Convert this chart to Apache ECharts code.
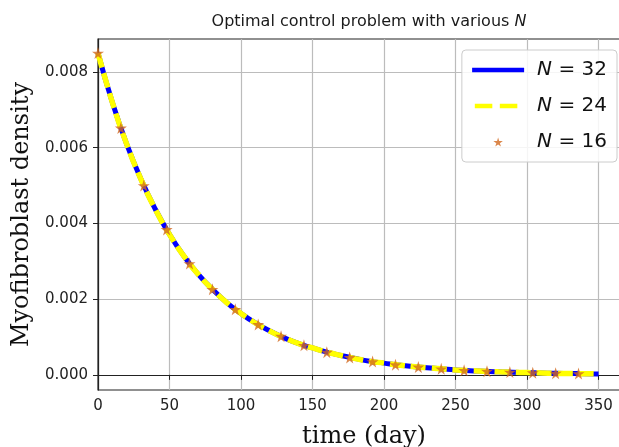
<!DOCTYPE html>
<html>
<head>
<meta charset="utf-8">
<script src="https://cdn.jsdelivr.net/npm/echarts@6/dist/echarts.min.js"></script>
<style>html,body{margin:0;padding:0;background:#fff}#c{width:619px;height:447px}</style>
</head>
<body>
<div id="c"></div>
<script>
// time (day) for the continuous curves
const lineDays = [0,10,20,30,40,50,60,70,80,90,100,110,120,130,140,150,160,170,180,190,200,210,220,230,240,250,260,270,280,290,300,310,320,330,340,350];
const densityN32 = [0.00850,0.00720,0.00610,0.00517,0.00438,0.00371,0.00314,0.00266,0.00226,0.00191,0.00162,0.00137,0.00116,0.00098,0.00083,0.00071,0.00060,0.00051,0.00043,0.00036,0.00031,0.00026,0.00022,0.00019,0.00016,0.00013,0.00011,0.000095,0.00008,0.00007,0.00006,0.00005,0.00004,0.000035,0.00003,0.000025];
const densityN24 = [0.00850,0.00720,0.00610,0.00517,0.00438,0.00371,0.00314,0.00266,0.00226,0.00191,0.00162,0.00137,0.00116,0.00098,0.00083,0.00071,0.00060,0.00051,0.00043,0.00036,0.00031,0.00026,0.00022,0.00019,0.00016,0.00013,0.00011,0.000095,0.00008,0.00007,0.00006,0.00005,0.00004,0.000035,0.00003,0.000025];
// N = 16 markers
const starDays = [0,16,32,48,64,80,96,112,128,144,160,176,192,208,224,240,256,272,288,304,320,336];
const densityN16 = [0.0085,0.00652,0.00500,0.00384,0.00294,0.00226,0.00173,0.00133,0.00102,0.00078,0.00060,0.00046,0.00035,0.00027,0.00021,0.00016,0.00012,0.000095,0.000073,0.000056,0.000043,0.000033];
const xTicks = [0,50,100,150,200,250,300,350];
const yTicks = [0,0.002,0.004,0.006,0.008];
const seriesNames = ['32','24','16'];

const zip = (xs, ys) => xs.map((x, i) => [x, ys[i]]);
const star = 'path://M50,0 L61,35 L98,35 L68,57 L79,91 L50,70 L21,91 L32,57 L2,35 L39,35 Z';
const sans = 'DejaVu Sans';
const serif = 'DejaVu Serif';

const chart = echarts.init(document.getElementById('c'), null, {renderer: 'canvas'});
chart.setOption({
  animation: false,
  backgroundColor: '#fff',
  title: {
    text: '{a|Optimal control problem with various }{i|N}',
    left: 364, textAlign: 'center', top: 9,
    textStyle: {
      fontWeight: 'normal',
      rich: {
        a: {fontFamily: sans, fontSize: 16, fontWeight: 'normal', color: '#1a1a1a'},
        i: {fontFamily: sans, fontSize: 16, fontWeight: 'normal', fontStyle: 'italic', color: '#1a1a1a'}
      }
    }
  },
  grid: {left: 98, top: 39, right: -11, bottom: 57, outerBoundsMode: 'none', containLabel: false,
         show: true, borderColor: '#222', borderWidth: 1.2, backgroundColor: 'transparent'},
  legend: {
    right: 2, top: 50, orient: 'vertical',
    itemWidth: 52, itemHeight: 9, itemGap: 16,
    padding: [10, 10, 10, 8],
    backgroundColor: 'rgba(255,255,255,0.85)',
    borderColor: '#cccccc', borderWidth: 1, borderRadius: 4,
    data: [
      {name: seriesNames[0], itemStyle: {opacity: 0}, lineStyle: {width: 4.5, type: 'solid', color: '#0000ff'}},
      {name: seriesNames[1], itemStyle: {opacity: 0}, lineStyle: {width: 4.5, type: [17.5, 7.5], dashOffset: 22.3, color: '#ffff00'}},
      {name: seriesNames[2]}
    ],
    formatter: n => '{i|N} = ' + n,
    textStyle: {
      fontFamily: sans, fontSize: 20, color: '#111', padding: [0,0,0,8],
      rich: {i: {fontFamily: sans, fontSize: 20, fontStyle: 'italic', color: '#111'}}
    }
  },
  xAxis: {
    type: 'value', min: 0, max: 372,
    name: 'time (day)', nameLocation: 'middle', nameGap: 35,
    nameTextStyle: {fontFamily: serif, fontSize: 24, color: '#111'},
    axisLine: {show: true, lineStyle: {color: '#222', width: 1.2}},
    axisTick: {show: true, length: 5, lineStyle: {color: '#222'}, customValues: xTicks},
    axisLabel: {customValues: xTicks, fontFamily: sans, fontSize: 15, color: '#222', margin: 9},
    splitLine: {show: true, lineStyle: {color: '#bcbcbc', width: 1.2}}
  },
  yAxis: {
    type: 'value', min: -0.0004, max: 0.00887,
    name: 'Myofibroblast density', nameLocation: 'middle', nameGap: 64,
    nameTextStyle: {fontFamily: serif, fontSize: 24, color: '#111'},
    axisLine: {show: true, lineStyle: {color: '#222', width: 1.2}},
    axisTick: {show: true, length: 5, lineStyle: {color: '#222'}, customValues: yTicks},
    axisLabel: {customValues: yTicks, fontFamily: sans, fontSize: 15, color: '#222', margin: 10,
      formatter: v => v.toFixed(3)},
    splitLine: {show: true, lineStyle: {color: '#bcbcbc', width: 1.2}}
  },
  series: [
    {name: seriesNames[0], type: 'line', data: zip(lineDays, densityN32), smooth: true,
     showSymbol: false, color: '#0000ff',
     lineStyle: {color: '#0000ff', width: 5}, z: 2},
    {name: seriesNames[1], type: 'line', data: zip(lineDays, densityN24), smooth: true,
     showSymbol: false, color: '#ffff00',
     lineStyle: {color: '#ffff00', width: 5.5, type: [15, 6]}, z: 3},
    {name: seriesNames[2], type: 'scatter', data: zip(starDays, densityN16),
     symbol: star, symbolSize: 12, color: '#d2691e',
     itemStyle: {color: '#d2691e'}, z: 4}
  ]
});
</script>
</body>
</html>
